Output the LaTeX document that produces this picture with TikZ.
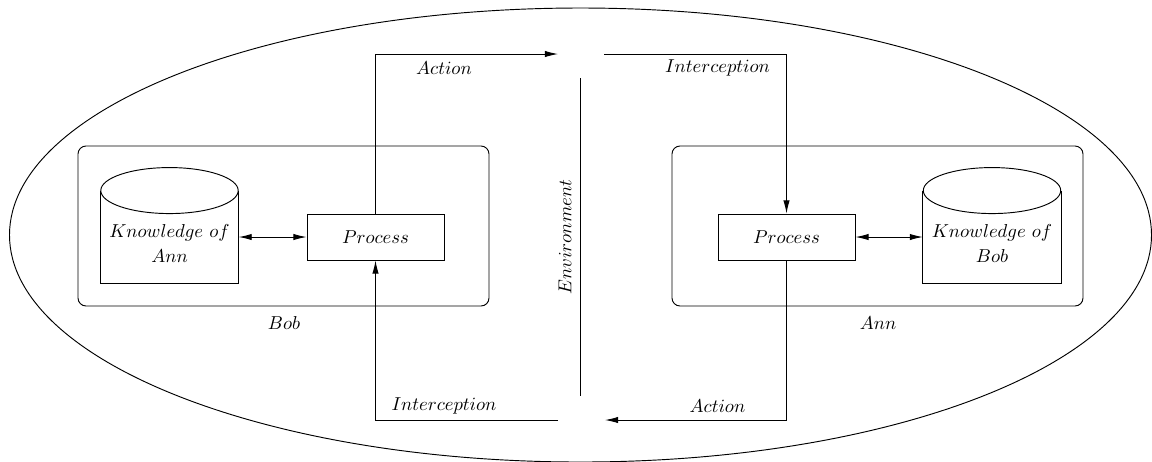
\documentclass[tikz,border=0pt]{standalone}
\usetikzlibrary{arrows.meta}
\begin{document}
\begin{tikzpicture}[x=0.535pt,y=-0.535pt,line width=0.5pt,
  agent/.style={draw,rounded corners=4.3pt,minimum width=219.9pt,minimum height=85.6pt,inner sep=0pt},
  proc/.style={draw,minimum width=73.3pt,minimum height=24.6pt,inner sep=0pt},
  cylbody/.style={minimum width=73.5pt,minimum height=49.2pt,inner sep=0pt},
  txt/.style={inner sep=0pt,align=center},
  arr/.style={-{Latex[length=7pt,width=3.4pt]}},
  darr/.style={{Latex[length=7pt,width=3.4pt]}-{Latex[length=7pt,width=3.4pt]}}]
\useasboundingbox (0,0) rectangle (1152,461);
% outer ellipse
\draw (580.5,235) ellipse [x radius=571, y radius=227];
% agents
\node[agent] (bob) at (283.5,226) {};
\node[agent] (ann) at (877.5,226) {};
\node[txt] (bobl) at (284,323) {$Bob$};
\node[txt] (annl) at (878,323) {$Ann$};
% processes
\node[proc] (bp) at (375.5,237) {$Process$};
\node[proc] (ap) at (786.5,237) {$Process$};
% cylinders
\node[cylbody] (kA) at (169.5,237) {};
\draw (kA.north west) -- (kA.south west) -- (kA.south east) -- (kA.north east);
\draw (kA.north) ellipse [x radius=68.7, y radius=23];
\node[txt] (kAt) at (169.5,243.5) {$Knowledge\ of$\\[1pt]$Ann$};
\node[cylbody] (kB) at (992,237) {};
\draw (kB.north west) -- (kB.south west) -- (kB.south east) -- (kB.north east);
\draw (kB.north) ellipse [x radius=68.7, y radius=23];
\node[txt] (kBt) at (992,243.5) {$Knowledge\ of$\\[1pt]$Bob$};
\draw[darr] (kA.east) -- (bp.west);
\draw[darr] (ap.east) -- (kB.west);
% environment
\coordinate (e1) at (580,78);
\coordinate (e2) at (580,396);
\draw (e1) -- (e2);
\node[txt,rotate=90] (env) at (565,237) {$Environment$};
% flows
\coordinate (a1) at (558,54);
\coordinate (i1) at (604,54);
\coordinate (a2) at (605,420);
\coordinate (i2) at (558,420);
\draw[arr] (bp.north) |- (a1);
\draw[arr] (i1) -| (ap.north);
\draw[arr] (ap.south) |- (a2);
\draw[arr] (i2) -| (bp.south);
\node[txt] (act1) at (444,68) {$Action$};
\node[txt] (int1) at (717.5,68) {$Interception$};
\node[txt] (int2) at (444,406) {$Interception$};
\node[txt] (act2) at (717.5,406) {$Action$};
\end{tikzpicture}
\end{document}
